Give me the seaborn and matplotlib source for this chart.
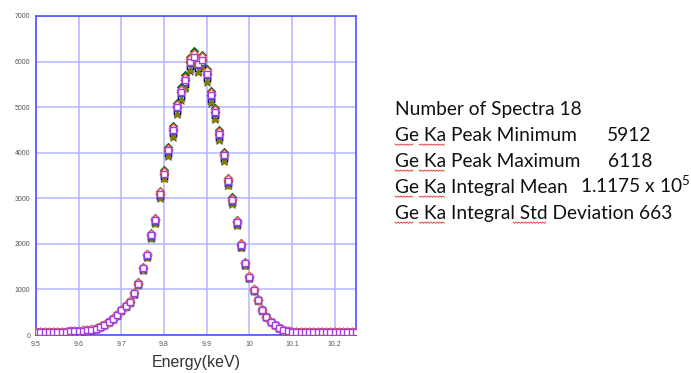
import numpy as np
import pandas as pd
import seaborn as sns
import matplotlib
matplotlib.use('Agg')
import matplotlib.pyplot as plt
from matplotlib.lines import Line2D

# Ge Ka peak, counts per 10 eV bin
energy = [round(9.50 + 0.01 * i, 2) for i in range(76)]
counts = [60, 62, 65, 68, 72, 70, 72, 75, 80, 85, 90, 98, 108, 120,
          140, 175, 219, 292, 360, 438, 548, 640, 730, 913,
          1130, 1460, 1750, 2190, 2520, 3100, 3540, 4050, 4490, 5000,
          5330, 5590, 5990, 6100, 5950, 6030, 5730, 5260, 4890, 4420,
          3940, 3380, 2960, 2480, 1970, 1570, 1280, 990, 770, 550,
          400, 290, 220, 150, 110, 90, 75,
          70, 68, 66, 65, 65, 64, 65, 66, 64, 63, 64, 62, 63, 62, 61]

# relative peak height of each of the 18 spectra
peak_scale = [1.005, 0.985, 0.975, 0.995, 0.99, 0.97, 0.965, 1.0, 1.02,
              0.98, 0.97, 0.99, 0.985, 1.0, 0.975, 0.995, 1.01, 1.0]
colors = ['#ff2000', '#20d020', '#2020ff', '#ff40ff', '#00c0ff', '#ffe000',
          '#303030', '#ff8000', '#106010', '#ff80c0', '#808080', '#90ff90',
          '#000090', '#a05020', '#808000', '#4040c0', '#ff6060', '#a040e0']
markers = ['o', 'o', 's', 'v', '^', 'o', 'x', 'o', 'D',
           'v', 'x', 'o', 's', 'D', '^', '^', 'D', 's']
filled = [True, False, False, False, True, True, True, True, True,
          False, True, False, False, False, True, False, False, False]

# summary text: label, value
info_labels = ['Number of Spectra 18', 'Ge Ka Peak Minimum', 'Ge Ka Peak Maximum',
               'Ge Ka Integral Mean', 'Ge Ka Integral Std Deviation 663']
info_values = ['', '5912', '6118', '1.1175 x 10$\\mathregular{^5}$', '']

sns.set_theme(style='white')
plt.rcParams['font.family'] = ['Liberation Sans', 'DejaVu Sans']

W, H = 691, 373
fig = plt.figure(figsize=(W / 100, H / 100), dpi=100)
ax = fig.add_axes([36 / W, 1 - 335 / H, 320 / W, 319 / H])

cnt = np.array(counts, dtype=float)
for i in range(18):
    df = pd.DataFrame({'energy': energy, 'counts': cnt * peak_scale[i]})
    if markers[i] == 'x':
        sns.scatterplot(data=df, x='energy', y='counts', ax=ax, marker='x',
                        color=colors[i], s=18, linewidth=0.8, zorder=3 + i)
    elif filled[i]:
        sns.scatterplot(data=df, x='energy', y='counts', ax=ax, marker=markers[i],
                        color=colors[i], edgecolor=colors[i], s=18, linewidth=0.6,
                        zorder=3 + i)
    else:
        sns.scatterplot(data=df, x='energy', y='counts', ax=ax, marker=markers[i],
                        facecolor='white', edgecolor=colors[i], s=19, linewidth=1.0,
                        zorder=3 + i)

ax.set_xlim(9.5, 10.25)
ax.set_ylim(0, 7000)
ax.set_xticks([9.5, 9.6, 9.7, 9.8, 9.9, 10.0, 10.1, 10.2])
ax.set_xticklabels(['9.5', '9.6', '9.7', '9.8', '9.9', '10', '10.1', '10.2'])
ax.set_yticks(range(0, 7001, 1000))
ax.tick_params(labelsize=5, colors='#555555', length=3, direction='in',
               width=0.8, pad=4)
ax.tick_params(axis='both', color='#5050ff')
ax.grid(True, color='#b4b4ff', linestyle='-', linewidth=1.1)
ax.set_axisbelow(True)
for sp in ax.spines.values():
    sp.set_color('#5050ff')
    sp.set_linewidth(1.2)
ax.set_xlabel('Energy(keV)', fontsize=11.5, color='#333333', labelpad=5)
ax.set_ylabel('')

# text block on the right
text_font = ['Lato', 'DejaVu Sans']
value_x = [0, 607, 608, 580, 0]
for k in range(5):
    yb = 1 - (115 + 26 * k) / H
    fig.text(395 / W, yb, info_labels[k], fontsize=13.8, color='#111111',
             family=text_font, va='baseline')
    if info_values[k]:
        fig.text(value_x[k] / W, yb, info_values[k], fontsize=13.8,
                 color='#111111', family=text_font, va='baseline')


# red spell-check squiggles under "Ge", "Ka" and "Std"
def squiggle(x0, x1, ybase):
    xs = np.arange(x0, x1 + 0.1, 1.5)
    ys = ybase + np.where(np.arange(len(xs)) % 2 == 0, 0, 1.3)
    fig.add_artist(Line2D(xs / W, 1 - ys / H, color='#e03030', lw=0.6))


for k in range(1, 5):
    squiggle(395, 413, 115 + 26 * k + 3)
    squiggle(419, 445, 115 + 26 * k + 3)
squiggle(513, 547, 115 + 26 * 4 + 3)

fig.savefig('out.png', dpi=100)
